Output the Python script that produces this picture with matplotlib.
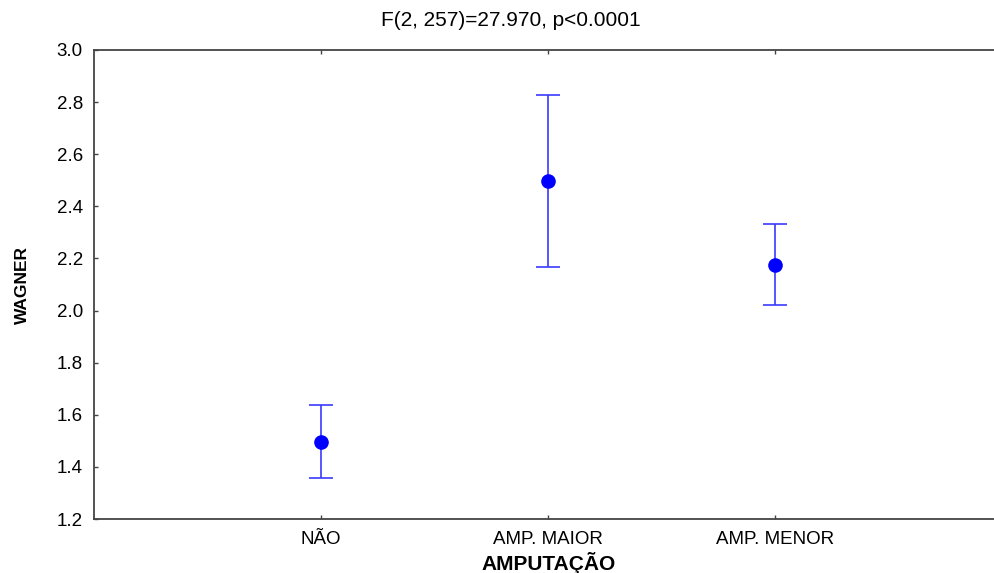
import matplotlib.pyplot as plt
import numpy as np

# dados
grupos = ['NÃO', 'AMP. MAIOR', 'AMP. MENOR']
media = [1.497, 2.497, 2.173]
sup = [1.637, 2.827, 2.331]
inf = [1.356, 2.169, 2.023]
yticks = [1.2, 1.4, 1.6, 1.8, 2.0, 2.2, 2.4, 2.6, 2.8, 3.0]

plt.rcParams['font.family'] = ['Liberation Sans', 'DejaVu Sans']

fig = plt.figure(figsize=(9.94, 5.73), dpi=100)
# eixo direito fica fora da imagem, como no original
ax = fig.add_axes([94 / 994, 54 / 573, 908 / 994, 469 / 573])

x = np.arange(1, len(grupos) + 1)
m = np.array(media)
err = [m - np.array(inf), np.array(sup) - m]
ax.errorbar(x, m, yerr=err, fmt='o', color='#0000ff', ecolor='#3a3aff',
            elinewidth=1.2, capsize=8.5, capthick=1.2, markersize=9.5)

ax.set_xlim(0, 4)
ax.set_ylim(1.2, 3.0)
ax.set_xticks(x)
ax.set_xticklabels(grupos)
ax.set_yticks(yticks)
ax.set_yticklabels(['%.1f' % v for v in yticks])
ax.tick_params(direction='in', length=3, width=1, color='#444444',
               labelsize=13.5, top=True, pad=8)
ax.tick_params(axis='x', pad=9)
for s in ax.spines.values():
    s.set_color('#444444')
    s.set_linewidth(1.3)

fig.text(511 / 994, 1 - 20 / 573, 'F(2, 257)=27.970, p<0.0001',
         ha='center', va='center', fontsize=15)
fig.text(549 / 994, 1 - 563 / 573, 'AMPUTAÇÃO', ha='center', va='center',
         fontsize=15, fontweight='bold')
fig.text(22 / 994, 1 - 285 / 573, 'WAGNER', ha='center', va='center',
         fontsize=12.5, fontweight='bold', rotation=90)

fig.savefig('out.png', dpi=100)
